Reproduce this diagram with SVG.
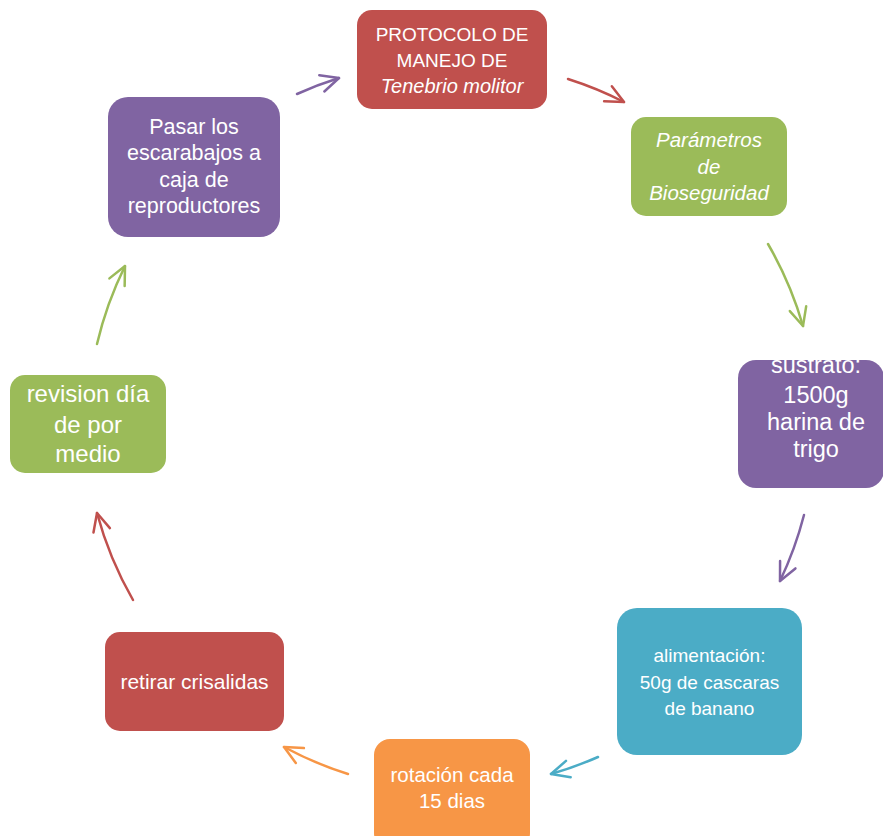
<svg xmlns="http://www.w3.org/2000/svg" width="883" height="836" viewBox="0 0 883 836">
<style>
.t{font-family:"Liberation Sans",Arial,sans-serif;fill:#fff;text-anchor:middle}
.i{font-style:italic}
.c{fill:none;stroke-width:2.5;stroke-linecap:round}
</style>
<defs>
<marker id="mR" markerUnits="userSpaceOnUse" markerWidth="30" markerHeight="30" refX="0" refY="0" orient="auto" overflow="visible"><path d="M-18,-8.5 L0,0 L-18,8.5" fill="none" stroke="#C0504D" stroke-width="2.5" stroke-linecap="round" stroke-linejoin="round"/></marker>
<marker id="mG" markerUnits="userSpaceOnUse" markerWidth="30" markerHeight="30" refX="0" refY="0" orient="auto" overflow="visible"><path d="M-18,-8.5 L0,0 L-18,8.5" fill="none" stroke="#9BBB59" stroke-width="2.5" stroke-linecap="round" stroke-linejoin="round"/></marker>
<marker id="mP" markerUnits="userSpaceOnUse" markerWidth="30" markerHeight="30" refX="0" refY="0" orient="auto" overflow="visible"><path d="M-18,-8.5 L0,0 L-18,8.5" fill="none" stroke="#8064A2" stroke-width="2.5" stroke-linecap="round" stroke-linejoin="round"/></marker>
<marker id="mB" markerUnits="userSpaceOnUse" markerWidth="30" markerHeight="30" refX="0" refY="0" orient="auto" overflow="visible"><path d="M-18,-8.5 L0,0 L-18,8.5" fill="none" stroke="#4BACC6" stroke-width="2.5" stroke-linecap="round" stroke-linejoin="round"/></marker>
<marker id="mO" markerUnits="userSpaceOnUse" markerWidth="30" markerHeight="30" refX="0" refY="0" orient="auto" overflow="visible"><path d="M-18,-8.5 L0,0 L-18,8.5" fill="none" stroke="#F79646" stroke-width="2.5" stroke-linecap="round" stroke-linejoin="round"/></marker>
<clipPath id="clipS"><rect x="738" y="360" width="146" height="128" rx="18"/></clipPath>
</defs>

<g id="connectors">
<path class="c" stroke="#8064A2" d="M297,94 A365,365 0 0 1 339,78" marker-end="url(#mP)"/>
<path class="c" stroke="#C0504D" d="M568,79 A365,365 0 0 1 624,102" marker-end="url(#mR)"/>
<path class="c" stroke="#9BBB59" d="M768,244 A365,365 0 0 1 803,326" marker-end="url(#mG)"/>
<path class="c" stroke="#8064A2" d="M804,515 A365,365 0 0 1 780,581" marker-end="url(#mP)"/>
<path class="c" stroke="#4BACC6" d="M598,757 A365,365 0 0 1 551,774" marker-end="url(#mB)"/>
<path class="c" stroke="#F79646" d="M348,774 A365,365 0 0 1 284,747" marker-end="url(#mO)"/>
<path class="c" stroke="#C0504D" d="M133,600 A365,365 0 0 1 97,513" marker-end="url(#mR)"/>
<path class="c" stroke="#9BBB59" d="M97,344 A365,365 0 0 1 125,266" marker-end="url(#mG)"/>
</g>

<g id="n1">
<rect x="357" y="10" width="190" height="99" rx="15" fill="#C0504D"/>
<text class="t" font-size="19" x="452" y="41">PROTOCOLO DE</text>
<text class="t" font-size="19" x="452" y="67">MANEJO DE</text>
<text class="t i" font-size="20" x="452" y="93">Tenebrio molitor</text>
</g>

<g id="n2">
<rect x="631" y="117" width="156" height="99" rx="15" fill="#9BBB59"/>
<text class="t i" font-size="20.5" x="709" y="147">Parámetros</text>
<text class="t i" font-size="20.5" x="709" y="174">de</text>
<text class="t i" font-size="20.5" x="709" y="200">Bioseguridad</text>
</g>

<g id="n3">
<rect x="738" y="360" width="146" height="128" rx="18" fill="#8064A2"/>
<g clip-path="url(#clipS)">
<text class="t" font-size="23.5" x="816" y="373">sustrato:</text>
<text class="t" font-size="23.5" x="816" y="403">1500g</text>
<text class="t" font-size="23.5" x="816" y="430">harina de</text>
<text class="t" font-size="23.5" x="816" y="457">trigo</text>
</g>
</g>

<g id="n4">
<rect x="617" y="608" width="185" height="147" rx="20" fill="#4BACC6"/>
<text class="t" font-size="19" x="709.5" y="662">alimentación:</text>
<text class="t" font-size="19" x="709.5" y="689">50g de cascaras</text>
<text class="t" font-size="19" x="709.5" y="715">de banano</text>
</g>

<g id="n5">
<rect x="374" y="739" width="156" height="110" rx="16" fill="#F79646"/>
<text class="t" font-size="20.5" x="452" y="782">rotación cada</text>
<text class="t" font-size="20.5" x="452" y="808">15 dias</text>
</g>

<g id="n6">
<rect x="105" y="632" width="179" height="99" rx="15" fill="#C0504D"/>
<text class="t" font-size="21" x="194.5" y="689">retirar crisalidas</text>
</g>

<g id="n7">
<rect x="10" y="375" width="156" height="98" rx="15" fill="#9BBB59"/>
<text class="t" font-size="24" x="88" y="402">revision día</text>
<text class="t" font-size="24" x="88" y="433">de por</text>
<text class="t" font-size="24" x="88" y="462">medio</text>
</g>

<g id="n8">
<rect x="108" y="97" width="172" height="140" rx="20" fill="#8064A2"/>
<text class="t" font-size="21.5" x="194" y="134">Pasar los</text>
<text class="t" font-size="21.5" x="194" y="160">escarabajos a</text>
<text class="t" font-size="21.5" x="194" y="187">caja de</text>
<text class="t" font-size="21.5" x="194" y="213">reproductores</text>
</g>
</svg>
